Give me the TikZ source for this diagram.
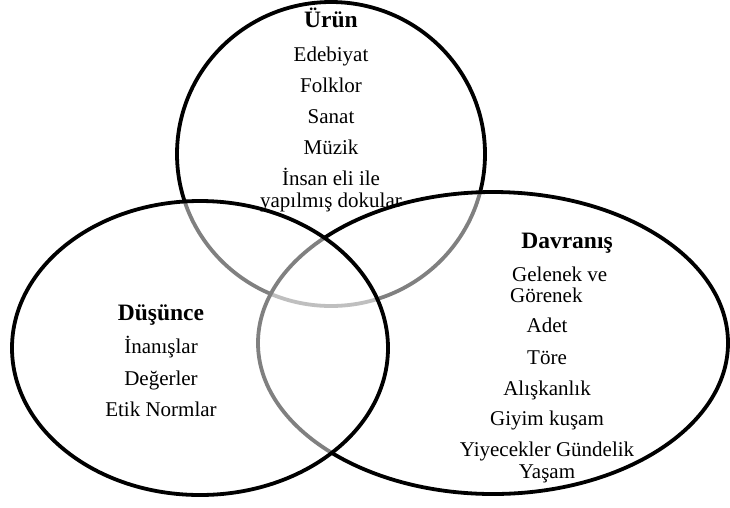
\documentclass[tikz,border=0pt]{standalone}
\usepackage{fontspec}
\setmainfont{Liberation Serif}
\begin{document}
\begin{tikzpicture}[x=1pt,y=-1pt,
  ring/.style={line width=3.8pt, draw=black},
  veil/.style={fill=white, fill opacity=0.5},
  lbl/.style={font=\fontsize{21}{22}\selectfont, inner sep=0pt, anchor=base},
  ttl/.style={font=\fontsize{23.5}{25}\selectfont\bfseries, inner sep=0pt, anchor=base}]
\useasboundingbox (0,0) rectangle (730,507);
% Urun circle (bottom layer)
\draw[ring] (331,154) ellipse [x radius=154, y radius=152];
% Davranis ellipse
\fill[veil] (493,343) ellipse [x radius=235, y radius=151];
\draw[ring] (493,343) ellipse [x radius=235, y radius=151];
% Dusunce ellipse
\fill[veil] (200,348) ellipse [x radius=188, y radius=147];
\draw[ring] (200,348) ellipse [x radius=188, y radius=147];
% Urun texts
\node[ttl] (u0) at (331,27) {Ürün};
\node[lbl] (u1) at (331,61) {Edebiyat};
\node[lbl] (u2) at (331,92) {Folklor};
\node[lbl] (u3) at (331,123) {Sanat};
\node[lbl] (u4) at (331,154) {Müzik};
\node[lbl] (u5) at (331,185) {İnsan eli ile};
\node[lbl] (u6) at (331,207) {yapılmış dokular};
% Dusunce texts
\node[ttl] (d0) at (161,320) {Düşünce};
\node[lbl] (d1) at (161,353) {İnanışlar};
\node[lbl] (d2) at (161,385) {Değerler};
\node[lbl] (d3) at (161,416) {Etik Normlar};
% Davranis texts
\node[ttl] (v0) at (567,248) {Davranış};
\node[lbl, anchor=base west] (v1) at (512,281) {Gelenek ve};
\node[lbl, anchor=base west] (v2) at (510,302) {Görenek};
\node[lbl] (v3) at (547,332) {Adet};
\node[lbl] (v4) at (547,364) {Töre};
\node[lbl] (v5) at (547,395) {Alışkanlık};
\node[lbl] (v6) at (547,425) {Giyim kuşam};
\node[lbl] (v7) at (547,456) {Yiyecekler Gündelik};
\node[lbl] (v8) at (547,478) {Yaşam};
\end{tikzpicture}
\end{document}
